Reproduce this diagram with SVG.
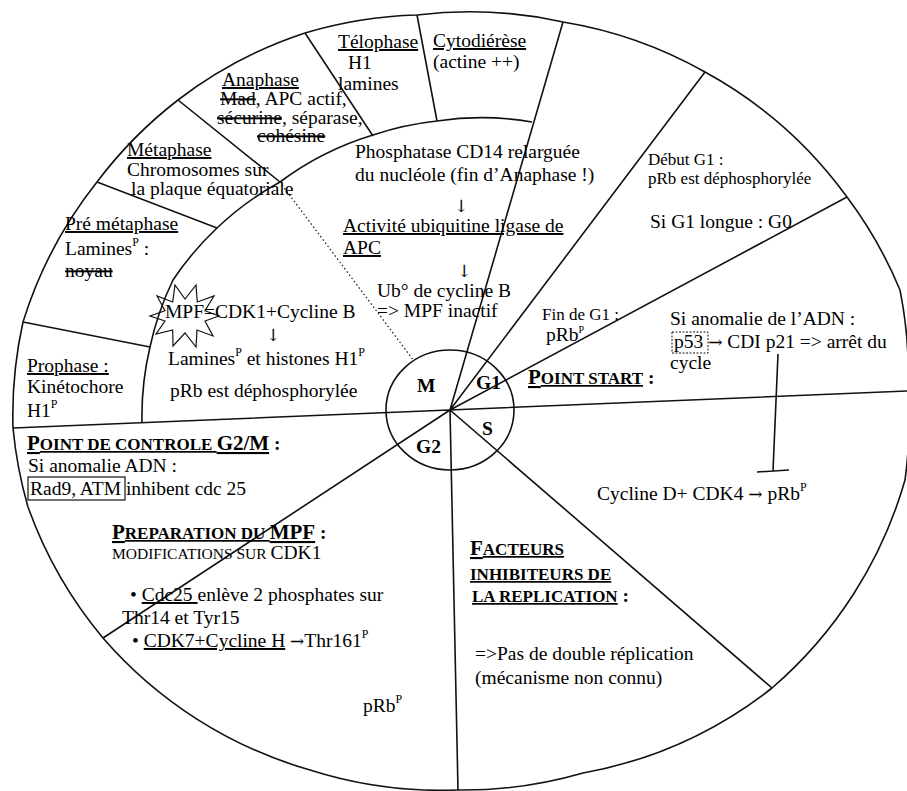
<svg xmlns="http://www.w3.org/2000/svg" width="907" height="791" viewBox="0 0 907 791">
<style>
text{font-family:"Liberation Serif","Times New Roman",serif;font-size:19.5px;fill:#000}
.sm{font-size:17px}
.b{font-weight:bold}
.u{text-decoration:underline}
.s{text-decoration:line-through}
.sc{font-size:17px}
.big{font-size:21px}
.ar{font-family:"DejaVu Serif","DejaVu Sans",serif;font-size:17px}
.ln{fill:none;stroke:#111;stroke-width:1.6;stroke-linejoin:round}
.thin{fill:none;stroke:#111;stroke-width:1.2}
.sup{font-size:12px}
</style>
<rect x="0" y="0" width="907" height="791" fill="#fff"/>
<g id="structure" class="ln">
<path d="M13,428 A430,430 0 0 1 23,322 A430,430 0 0 1 97,182 A430,430 0 0 1 178,100 A430,430 0 0 1 305,33 A430,430 0 0 1 417,15 A430,430 0 0 1 563,22 A430,430 0 0 1 705,72 A430,430 0 0 1 847,197 A430,430 0 0 1 900,290 A430,430 0 0 1 908,392 A430,430 0 0 1 905,480 A430,430 0 0 1 772,688 A430,430 0 0 1 583,773 A430,430 0 0 1 457,790 A430,430 0 0 1 310,770 A430,430 0 0 1 103,638 A430,430 0 0 1 28,507 A430,430 0 0 1 13,428 Z"/>
<path d="M142,423 A300,300 0 0 1 150,347 A300,300 0 0 1 173,280 A300,300 0 0 1 217,228 A300,300 0 0 1 280,182 A300,300 0 0 1 373,135 A300,300 0 0 1 437,121 A300,300 0 0 1 532,122"/>
<path d="M23,322 L150,347 M97,182 L217,228 M178,100 L280,182 M305,33 L373,136 M417,15 L437,121"/>
<path d="M450,410 L563,22 M450,410 L705,72 M450,410 L847,197 M13,428 L908,391 M450,410 L772,688 M450,410 L458,790 M450,410 L103,638"/>
<ellipse cx="450" cy="410" rx="64" ry="60"/>
</g>
<g id="connectors">
<path class="thin" d="M282,185 L414,361" stroke-dasharray="1.5,2.5"/>
<path class="ln" d="M778,354 L773,471 M757,472 L789,470"/>
</g>
<g id="phase-labels">
<text x="417" y="392" class="b">M</text>
<text x="476" y="389" class="b">G1</text>
<text x="482" y="435" class="b">S</text>
<text x="416" y="453" class="b">G2</text>
</g>
<g id="telophase">
<text x="338" y="48" class="u">Télophase</text>
<text x="348" y="69">H1</text>
<text x="338" y="90">lamines</text>
</g>
<g id="cytodierese">
<text x="433" y="47" class="u">Cytodiérèse</text>
<text x="433" y="68">(actine ++)</text>
</g>
<g id="anaphase">
<text x="222" y="86" class="u">Anaphase</text>
<text x="220" y="105" font-size="18.5"><tspan class="s">Mad</tspan>, APC actif,</text>
<text x="217" y="124" font-size="18.5"><tspan class="s">sécurine</tspan>, séparase,</text>
<text x="257" y="142" font-size="18" class="s">cohésine</text>
</g>
<g id="metaphase">
<text x="127" y="156" class="u">Métaphase</text>
<text x="127" y="176">Chromosomes sur</text>
<text x="131" y="195">la plaque équatoriale</text>
</g>
<g id="premetaphase">
<text x="65" y="230" class="u">Pré métaphase</text>
<text x="65" y="255">Lamines<tspan class="sup" dy="-9">P</tspan><tspan dy="9"> :</tspan></text>
<text x="65" y="277" class="s">noyau</text>
</g>
<g id="prophase">
<text x="27" y="372" class="u">Prophase :</text>
<text x="27" y="393">Kinétochore</text>
<text x="27" y="417">H1<tspan class="sup" dy="-9">P</tspan></text>
</g>
<g id="mpf">
<polygon class="thin" points="219,316 205,321 213,336 197,330 196,347 185,333 173,346 172.7,330 156,334 165,321 150,316 165,310.7 157,296 172.7,302 175,285 185,299 196,285 197.3,302 214,296 205,310.7"/>
<text x="165" y="318">MPF=CDK1+Cycline B</text>
<text x="266" y="341" class="ar">↓</text>
<text x="168" y="365">Lamines<tspan class="sup" dy="-9">P</tspan><tspan dy="9"> et histones H1</tspan><tspan class="sup" dy="-9">P</tspan></text>
<text x="170" y="397">pRb est déphosphorylée</text>
</g>
<g id="phosphatase">
<text x="355" y="158">Phosphatase CD14 relarguée</text>
<text x="355" y="181">du nucléole (fin d’Anaphase !)</text>
<text x="454" y="212" class="ar">↓</text>
<text x="343" y="232" class="u">Activité ubiquitine ligase de</text>
<text x="343" y="254" class="u">APC</text>
<text x="457" y="277" class="ar">↓</text>
<text x="377" y="297">Ub° de cycline B</text>
<text x="377" y="317">=&gt; MPF inactif</text>
</g>
<g id="debut-g1">
<text x="648" y="165" class="sm">Début G1 :</text>
<text x="648" y="184" class="sm">pRb est déphosphorylée</text>
<text x="650" y="228" font-size="17.5">Si G1 longue : G0</text>
</g>
<g id="fin-g1">
<text x="542" y="320" class="sm">Fin de G1 :</text>
<text x="546" y="341" font-size="15">pRb<tspan font-size="10" dy="-8">P</tspan></text>
</g>
<g id="point-start">
<text x="528" y="384" class="b"><tspan class="u"><tspan class="big">P</tspan><tspan class="sc">OINT START</tspan></tspan> :</text>
</g>
<g id="anomalie-adn">
<text x="670" y="325">Si anomalie de l’ADN :</text>
<rect x="672" y="332" width="36" height="21" fill="none" stroke="#111" stroke-width="1" stroke-dasharray="2,1.5"/>
<text x="674" y="348">p53 <tspan class="ar">→</tspan> CDI p21 =&gt; arrêt du</text>
<text x="670" y="369">cycle</text>
</g>
<g id="cycline-d">
<text x="597" y="500" font-size="18.5">Cycline D+ CDK4 <tspan class="ar">→</tspan> pRb<tspan class="sup" dy="-9">P</tspan></text>
</g>
<g id="point-g2m">
<text x="27" y="450" class="b"><tspan class="u"><tspan class="big">P</tspan><tspan class="sc">OINT DE CONTROLE </tspan><tspan class="big">G2/M</tspan></tspan> :</text>
<text x="28" y="472">Si anomalie ADN :</text>
<rect x="28" y="477" width="97" height="23" fill="none" stroke="#111" stroke-width="1.2"/>
<text x="30" y="495">Rad9, ATM inhibent cdc 25</text>
</g>
<g id="preparation-mpf">
<text x="112" y="539" class="b"><tspan class="u"><tspan class="big">P</tspan><tspan class="sc">REPARATION DU </tspan><tspan class="big">MPF</tspan></tspan> :</text>
<text x="112" y="559"><tspan font-size="15.5">MODIFICATIONS SUR </tspan>CDK1</text>
<text x="130" y="601">• <tspan class="u">Cdc25 </tspan>enlève 2 phosphates sur</text>
<text x="122" y="624">Thr14 et Tyr15</text>
<text x="132" y="647">• <tspan class="u">CDK7+Cycline H</tspan> <tspan class="ar">→</tspan>Thr161<tspan class="sup" dy="-9">P</tspan></text>
<text x="363" y="712">pRb<tspan class="sup" dy="-9">P</tspan></text>
</g>
<g id="facteurs">
<text x="470" y="555" class="b u"><tspan class="big">F</tspan><tspan class="sc">ACTEURS</tspan></text>
<text x="470" y="580" class="b u sc">INHIBITEURS DE</text>
<text x="472" y="602" class="b"><tspan class="u sc">LA REPLICATION</tspan> :</text>
<text x="475" y="660">=&gt;Pas de double réplication</text>
<text x="475" y="684">(mécanisme non connu)</text>
</g>
</svg>
